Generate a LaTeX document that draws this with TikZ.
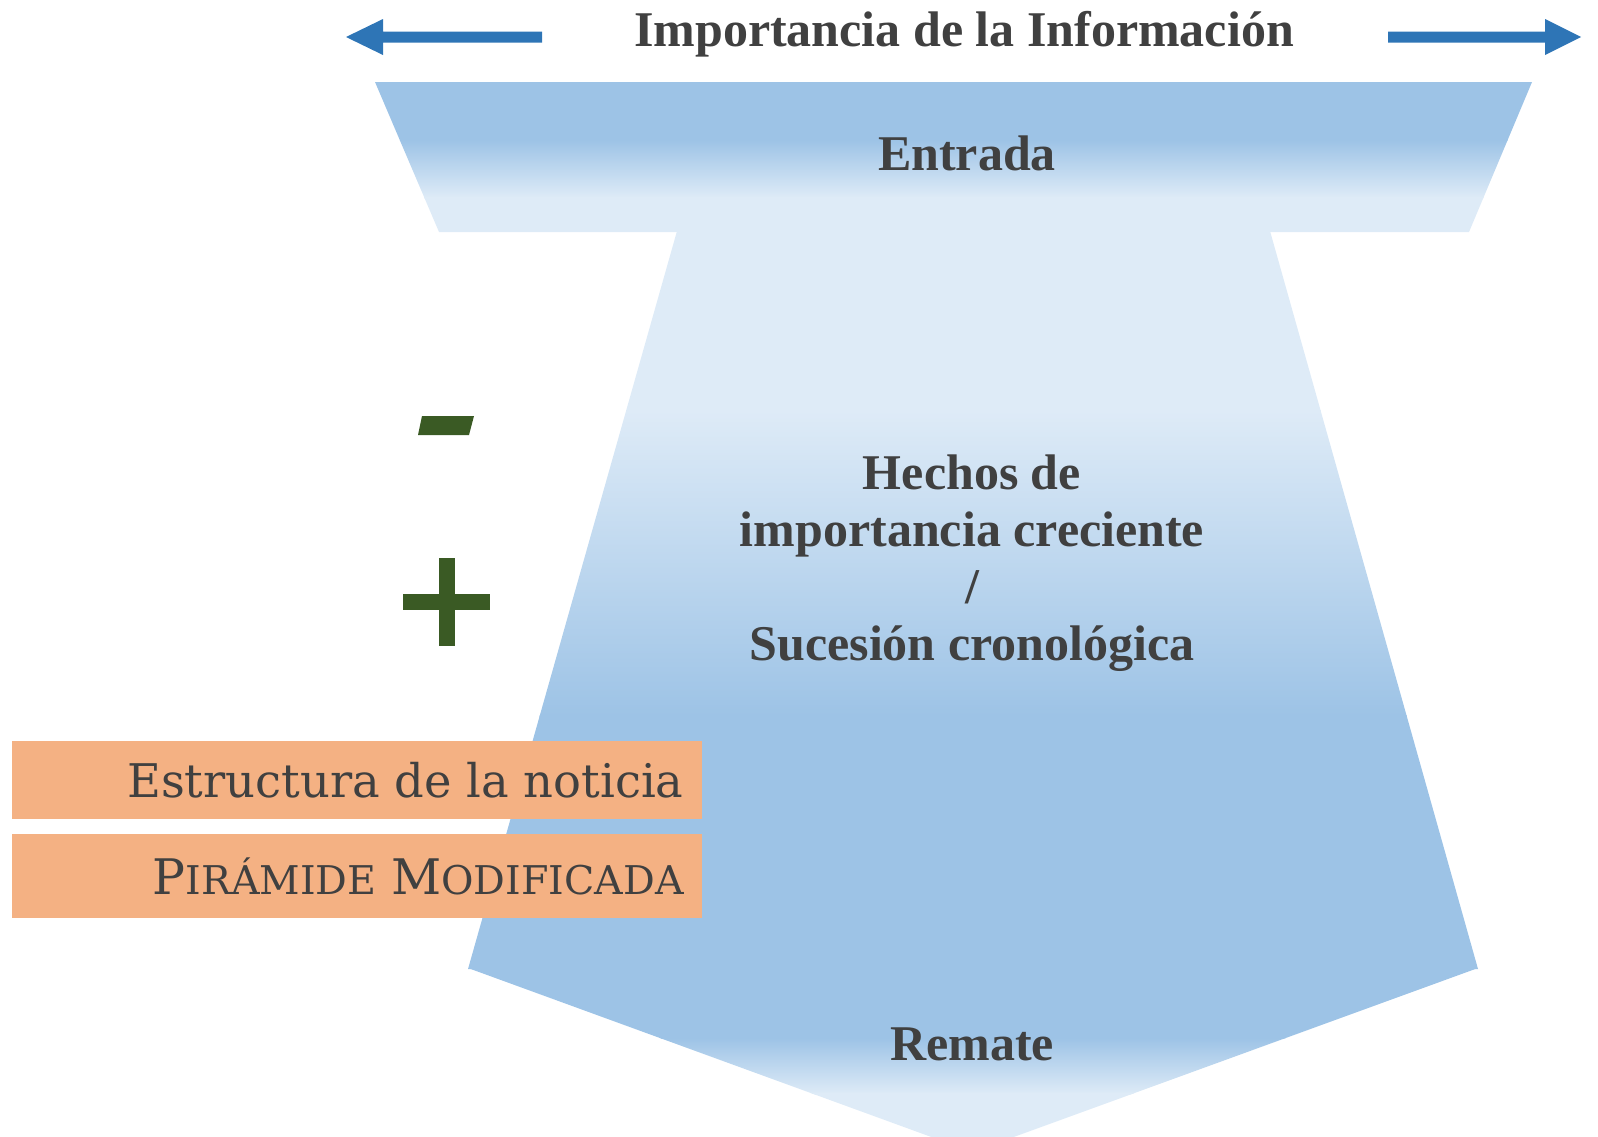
\documentclass[tikz,border=0pt]{standalone}
\usepackage{fontspec}
\setmainfont{Liberation Serif}
\newfontfamily\boxfont{DejaVu Serif}
\definecolor{bdark}{HTML}{9DC3E6}
\definecolor{blight}{HTML}{DEEBF7}
\definecolor{txtgray}{HTML}{404040}
\definecolor{arrowblue}{HTML}{2E75B6}
\definecolor{signgreen}{HTML}{3A5A24}
\definecolor{orangebox}{HTML}{F4B183}
\tikzset{
  boldlabel/.style={text=txtgray, font=\fontsize{25}{28.5}\selectfont\bfseries, inner sep=0pt},
  boxlabel/.style={text=txtgray, font=\boxfont\fontsize{23.2}{28}\selectfont, inner sep=0pt},
  boxfill/.style={fill=orangebox},
  signfill/.style={fill=signgreen},
  arrowfill/.style={fill=arrowblue}
}
\begin{document}
\begin{tikzpicture}[x=0.5pt,y=-0.5pt]
\useasboundingbox (0,0) rectangle (1598,1136);
% top trapezoid (Entrada)
\begin{scope}
\clip (375,82) -- (1532,82) -- (1469,232) -- (439,232) -- cycle;
\fill[bdark] (300,70) rectangle (1600,141);
\shade[top color=bdark,bottom color=blight] (300,140) rectangle (1600,198);
\fill[blight] (300,197) rectangle (1600,240);
\end{scope}
% middle trapezoid
\begin{scope}
\clip (677,231) -- (1270,231) -- (1478,969) -- (468,969) -- cycle;
\fill[blight] (300,220) rectangle (1600,411);
\shade[top color=blight,bottom color=bdark] (300,410) rectangle (1600,716);
\fill[bdark] (300,715) rectangle (1600,975);
\end{scope}
% bottom triangle (Remate)
\begin{scope}
\clip (0,0) rectangle (1598,1136);
\clip (468,968) -- (1478,968) -- (972.5,1152) -- cycle;
\fill[bdark] (300,960) rectangle (1600,1039);
\shade[top color=bdark,bottom color=blight] (300,1038) rectangle (1600,1094);
\fill[blight] (300,1093) rectangle (1600,1160);
\end{scope}
% arrows
\fill[arrowfill] (346,37) -- (383,19) -- (383,31.5) -- (542,31.5) -- (542,42.5) -- (383,42.5) -- (383,55) -- cycle;
\fill[arrowfill] (1581,37) -- (1545,19) -- (1545,31.5) -- (1388,31.5) -- (1388,42.5) -- (1545,42.5) -- (1545,55) -- cycle;
% minus and plus
\fill[signfill] (422,416) -- (474,416) -- (469,435) -- (418,435) -- cycle;
\fill[signfill] (438.5,558) rectangle (454.5,646);
\fill[signfill] (403,594) rectangle (490,610);
% orange boxes
\fill[boxfill] (12,741) rectangle (702,819);
\fill[boxfill] (12,834) rectangle (702,918);
% texts
\node[boldlabel, anchor=base] (title) at (964,46) {Importancia de la Información};
\node[boldlabel, anchor=base] (entrada) at (967,170) {Entrada};
\node[boldlabel, anchor=base, align=center] (hechos) at (972,660) {Hechos de\\importancia creciente\\/\\Sucesión cronológica};
\node[boldlabel, anchor=base] (remate) at (972,1060) {Remate};
\node[boxlabel, anchor=base east] (estructura) at (684,797) {Estructura de la noticia};
\node[boxlabel, anchor=base east] (piramide) at (684,894) {{\fontsize{24.5}{28}\selectfont P}{\fontsize{19.8}{22}\selectfont IRÁMIDE} {\fontsize{24.5}{28}\selectfont M}{\fontsize{19.8}{22}\selectfont ODIFICADA}};
\end{tikzpicture}
\end{document}
